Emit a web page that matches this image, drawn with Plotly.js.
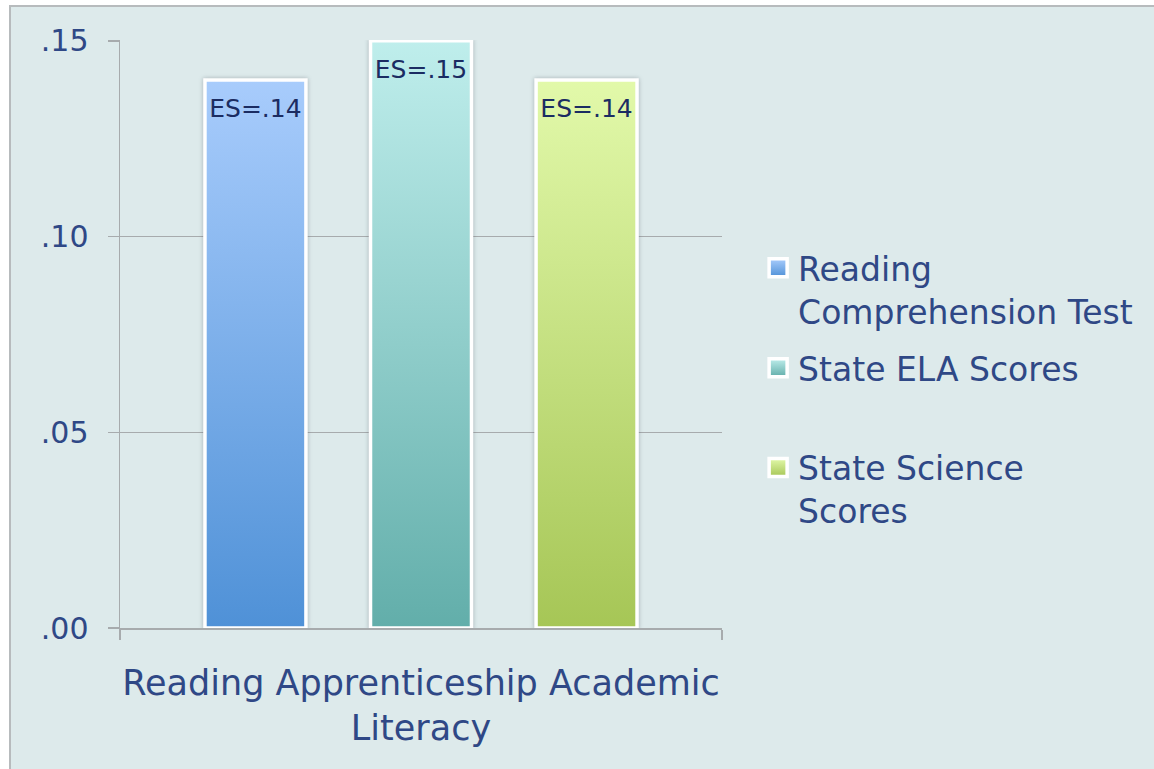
<!DOCTYPE html>
<html>
<head>
<meta charset="utf-8">
<script src="https://cdn.plot.ly/plotly-3.0.1.min.js"></script>
<style>
  html, body { margin: 0; padding: 0; background: #ffffff; }
  #frame { position: absolute; left: 9px; top: 5px; width: 1150px; height: 770px;
           border-left: 2px solid #b7bbbd; border-top: 2px solid #b7bbbd; background: #ddeaeb; }
  #chart { position: absolute; left: 0; top: 0; width: 1143px; height: 764px; }
</style>
</head>
<body>
<svg width="0" height="0" style="position:absolute">
  <defs>
    <linearGradient id="grad0" x1="0" y1="0" x2="0" y2="1">
      <stop offset="0" stop-color="#a8ccfc"/><stop offset="1" stop-color="#4f91d7"/>
    </linearGradient>
    <linearGradient id="grad1" x1="0" y1="0" x2="0" y2="1">
      <stop offset="0" stop-color="#bfeeec"/><stop offset="1" stop-color="#62aeaa"/>
    </linearGradient>
    <linearGradient id="grad2" x1="0" y1="0" x2="0" y2="1">
      <stop offset="0" stop-color="#e2f9aa"/><stop offset="1" stop-color="#a6c656"/>
    </linearGradient>
  </defs>
</svg>
<div id="frame"><div id="chart"></div></div>
<script>
// ---- data ----
const categories = ["Reading Apprenticeship Academic<br>Literacy"];
const seriesNames = ["Reading<br>Comprehension Test", "State ELA Scores<br> ", "State Science<br>Scores"];
const readingValues = [0.14];
const elaValues = [0.15];
const scienceValues = [0.14];
const readingLabels = ["ES=.14"];
const elaLabels = ["ES=.15"];
const scienceLabels = ["ES=.14"];
const yTickVals = [0, 0.05, 0.10, 0.15];
const yTickText = [".00", ".05", ".10", ".15"];

const seriesValues = [readingValues, elaValues, scienceValues];
const seriesLabels = [readingLabels, elaLabels, scienceLabels];
const baseColors = ["#7aaeea", "#8fcfcc", "#c6e084"];

const traces = seriesNames.map((name, i) => ({
  type: "bar",
  name: name,
  x: categories,
  y: seriesValues[i],
  text: seriesLabels[i],
  textposition: "inside",
  insidetextanchor: "end",
  textangle: 0,
  constraintext: "none",
  insidetextfont: { family: "DejaVu Sans", size: 25, color: "#1b2c62" },
  marker: { color: baseColors[i], line: { color: "#ffffff", width: 3.5 } },
  legendgroup: "g" + i,
  hoverinfo: "none"
}));

const gridColor = "#a7abad";
const textColor = "#2f4886";

const layout = {
  width: 1143, height: 764,
  margin: { l: 109, r: 432, t: 33, b: 143, pad: 0 },
  paper_bgcolor: "#ddeaeb",
  plot_bgcolor: "#ddeaeb",
  barmode: "group",
  bargap: 0.175,
  bargroupgap: 0.39,
  font: { family: "DejaVu Sans", color: textColor },
  xaxis: {
    type: "category",
    tickson: "boundaries",
    ticks: "outside", ticklen: 10, tickwidth: 1.5, tickcolor: gridColor,
    showline: true, linecolor: gridColor, linewidth: 1.5,
    showgrid: false,
    tickangle: 0,
    automargin: false,
    tickfont: { family: "DejaVu Sans", size: 35, color: textColor },
    ticklabelstandoff: 23,
    fixedrange: true
  },
  yaxis: {
    range: [0, 0.1502],
    tickvals: yTickVals, ticktext: yTickText,
    ticks: "outside", ticklen: 11, tickwidth: 1.5, tickcolor: gridColor,
    showline: true, linecolor: gridColor, linewidth: 1.5,
    showgrid: true, gridcolor: gridColor, gridwidth: 1.5,
    zeroline: false,
    tickfont: { family: "DejaVu Sans", size: 30, color: textColor },
    ticklabelstandoff: 13,
    fixedrange: true
  },
  showlegend: true,
  legend: {
    x: 1.06, xanchor: "left",
    y: 0.66, yanchor: "top",
    bgcolor: "rgba(0,0,0,0)",
    font: { family: "DejaVu Sans", size: 33, color: textColor },
    valign: "top",
    traceorder: "grouped",
    tracegroupgap: 11,
    itemclick: false, itemdoubleclick: false
  }
};

Plotly.newPlot("chart", traces, layout, { displayModeBar: false, staticPlot: true }).then(gd => {
  const gradIds = ["grad0", "grad1", "grad2"];
  gd.querySelectorAll(".barlayer .trace").forEach((tr, i) => {
    tr.querySelectorAll("path").forEach(p => {
      p.style.fill = "url(#" + gradIds[i] + ")";
      p.style.filter = "drop-shadow(0px 0px 2px rgba(60,70,80,0.35))";
    });
    tr.querySelectorAll("text").forEach(t => {
      const tf = t.getAttribute("transform") || "";
      t.setAttribute("transform", "translate(0,11) " + tf);
    });
  });
  gd.querySelectorAll(".legend .traces").forEach((tr, i) => {
    tr.querySelectorAll(".legendpoints path").forEach(p => {
      p.setAttribute("d", "M-9,-9H9V9H-9Z");
      p.style.fill = "url(#" + gradIds[i] + ")";
      p.style.stroke = "#ffffff";
      p.style.strokeWidth = "3.5px";
    });
  });
});
</script>
</body>
</html>
